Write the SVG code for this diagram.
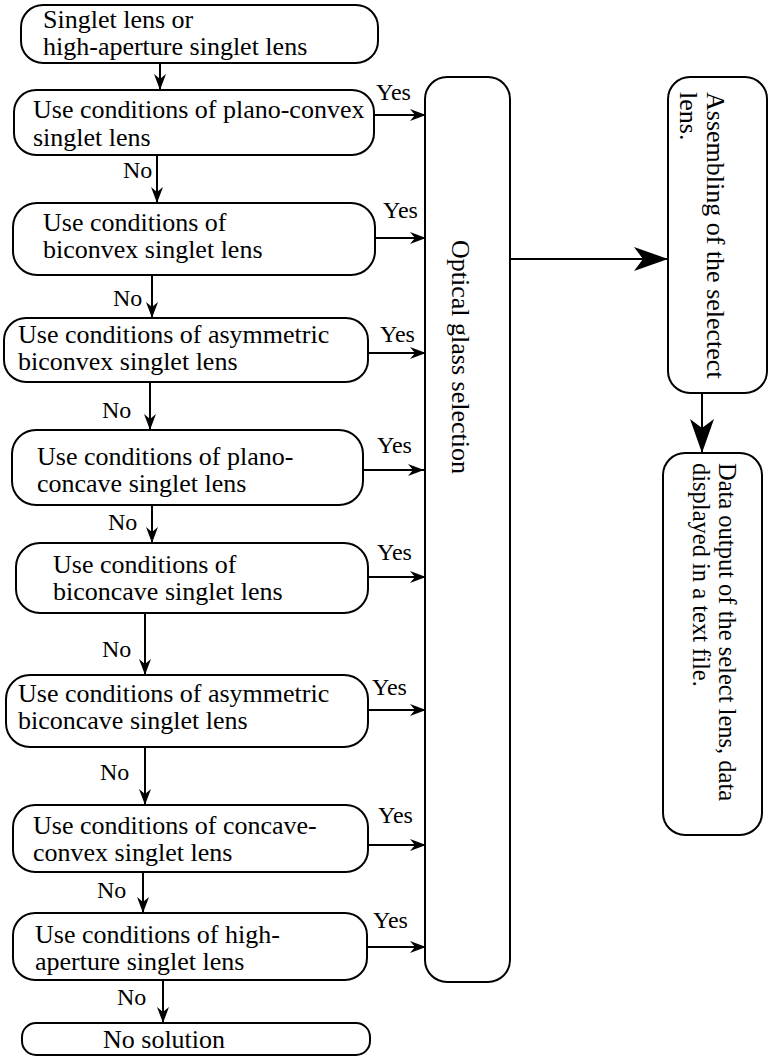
<svg xmlns="http://www.w3.org/2000/svg" width="768" height="1057" viewBox="0 0 768 1057">
  <defs>
    <style>
      .box { fill: #fff; stroke: #000; stroke-width: 2; }
      .t { font-family: "Liberation Serif", "Times New Roman", serif; font-size: 26px; fill: #000; }
      .lbl { font-family: "Liberation Serif", "Times New Roman", serif; font-size: 24px; fill: #000; }
      .dt { font-family: "Liberation Serif", "Times New Roman", serif; font-size: 24.5px; fill: #000; }
      .line { fill: none; stroke: #000; stroke-width: 2; }
      .sm { marker-end: url(#headSmall); }
      .lg { marker-end: url(#headLarge); }
    </style>
    <marker id="headSmall" markerUnits="userSpaceOnUse" markerWidth="17" markerHeight="13" refX="16" refY="6" orient="auto" overflow="visible">
      <path d="M0,0 L16,6 L0,12 L5,6 Z" fill="#000"/>
    </marker>
    <marker id="headLarge" markerUnits="userSpaceOnUse" markerWidth="35" markerHeight="25" refX="34" refY="12" orient="auto" overflow="visible">
      <path d="M0,0 L34,12 L0,24 L9,12 Z" fill="#000"/>
    </marker>
  </defs>

  <!-- connectors -->
  <g id="connectors">
    <!-- "No" chain down the left column -->
    <path class="line sm" d="M160,63 V90"/>
    <path class="line sm" d="M157,155 V203"/>
    <path class="line sm" d="M152,275 V318"/>
    <path class="line sm" d="M150,382 V430"/>
    <path class="line sm" d="M152,505 V543"/>
    <path class="line sm" d="M145,613 V675"/>
    <path class="line sm" d="M145,747 V805"/>
    <path class="line sm" d="M143,872 V913"/>
    <path class="line sm" d="M163,980 V1023"/>
    <!-- "Yes" branches into the glass selection -->
    <path class="line sm" d="M374,115 H426"/>
    <path class="line sm" d="M375,238 H426"/>
    <path class="line sm" d="M368,353 H426"/>
    <path class="line sm" d="M363,470 H424"/>
    <path class="line sm" d="M368,577 H426"/>
    <path class="line sm" d="M368,710 H426"/>
    <path class="line sm" d="M368,845 H426"/>
    <path class="line sm" d="M367,947 H426"/>
    <!-- right-hand flow -->
    <path class="line lg" d="M510,259 H668"/>
    <path class="line lg" d="M702,393 V453"/>
    <!-- branch labels -->
    <g class="lbl">
      <text x="123" y="178">No</text>
      <text x="113" y="306">No</text>
      <text x="102" y="418">No</text>
      <text x="108" y="530">No</text>
      <text x="102" y="657">No</text>
      <text x="100" y="780">No</text>
      <text x="97" y="898">No</text>
      <text x="117" y="1005">No</text>
      <text x="376" y="100">Yes</text>
      <text x="383" y="218">Yes</text>
      <text x="380" y="342">Yes</text>
      <text x="377" y="453">Yes</text>
      <text x="377" y="560">Yes</text>
      <text x="372" y="695">Yes</text>
      <text x="378" y="823">Yes</text>
      <text x="373" y="928">Yes</text>
    </g>
  </g>

  <g id="start">
    <rect class="box" x="21" y="5" width="357" height="58" rx="22" ry="22"/>
    <text class="t" x="43" y="28">Singlet lens or</text>
    <text class="t" x="43" y="55">high-aperture singlet lens</text>
  </g>

  <g id="plano-convex">
    <rect class="box" x="14" y="90" width="360" height="65" rx="22" ry="22"/>
    <text class="t" x="33" y="118">Use conditions of plano-convex</text>
    <text class="t" x="33" y="146">singlet lens</text>
  </g>

  <g id="biconvex">
    <rect class="box" x="13" y="203" width="362" height="72" rx="24" ry="24"/>
    <text class="t" x="43" y="231">Use conditions of</text>
    <text class="t" x="43" y="258">biconvex singlet lens</text>
  </g>

  <g id="asym-biconvex">
    <rect class="box" x="4" y="318" width="364" height="64" rx="22" ry="22"/>
    <text class="t" x="18" y="343">Use conditions of asymmetric</text>
    <text class="t" x="18" y="370">biconvex singlet lens</text>
  </g>

  <g id="plano-concave">
    <rect class="box" x="12" y="430" width="351" height="75" rx="24" ry="24"/>
    <text class="t" x="37" y="465">Use conditions of plano-</text>
    <text class="t" x="37" y="492">concave singlet lens</text>
  </g>

  <g id="biconcave">
    <rect class="box" x="16" y="543" width="352" height="70" rx="24" ry="24"/>
    <text class="t" x="53" y="573">Use conditions of</text>
    <text class="t" x="53" y="600">biconcave singlet lens</text>
  </g>

  <g id="asym-biconcave">
    <rect class="box" x="6" y="675" width="362" height="72" rx="24" ry="24"/>
    <text class="t" x="18" y="702">Use conditions of asymmetric</text>
    <text class="t" x="18" y="729">biconcave singlet lens</text>
  </g>

  <g id="concave-convex">
    <rect class="box" x="13" y="805" width="355" height="67" rx="22" ry="22"/>
    <text class="t" x="33" y="834">Use conditions of concave-</text>
    <text class="t" x="33" y="861">convex singlet lens</text>
  </g>

  <g id="high-aperture">
    <rect class="box" x="13" y="913" width="354" height="67" rx="22" ry="22"/>
    <text class="t" x="35" y="943">Use conditions of high-</text>
    <text class="t" x="35" y="970">aperture singlet lens</text>
  </g>

  <g id="no-solution">
    <rect class="box" x="22" y="1023" width="348" height="32" rx="14" ry="14"/>
    <text class="t" x="103" y="1048">No solution</text>
  </g>

  <g id="glass-selection">
    <rect class="box" x="425" y="77" width="85" height="905" rx="22" ry="22"/>
    <text class="t" transform="translate(452,240) rotate(90)">Optical glass selection</text>
  </g>

  <g id="assembling">
    <rect class="box" x="668" y="77" width="99" height="316" rx="22" ry="22"/>
    <text class="t" transform="translate(707,92) rotate(90)">Assembling of the selectect</text>
    <text class="t" transform="translate(680,92) rotate(90)">lens.</text>
  </g>

  <g id="data-output">
    <rect class="box" x="663" y="453" width="99" height="382" rx="22" ry="22"/>
    <text class="dt" transform="translate(719,463) rotate(90)">Data output of the select lens, data</text>
    <text class="dt" transform="translate(693,463) rotate(90)">displayed in a text file.</text>
  </g>
</svg>
